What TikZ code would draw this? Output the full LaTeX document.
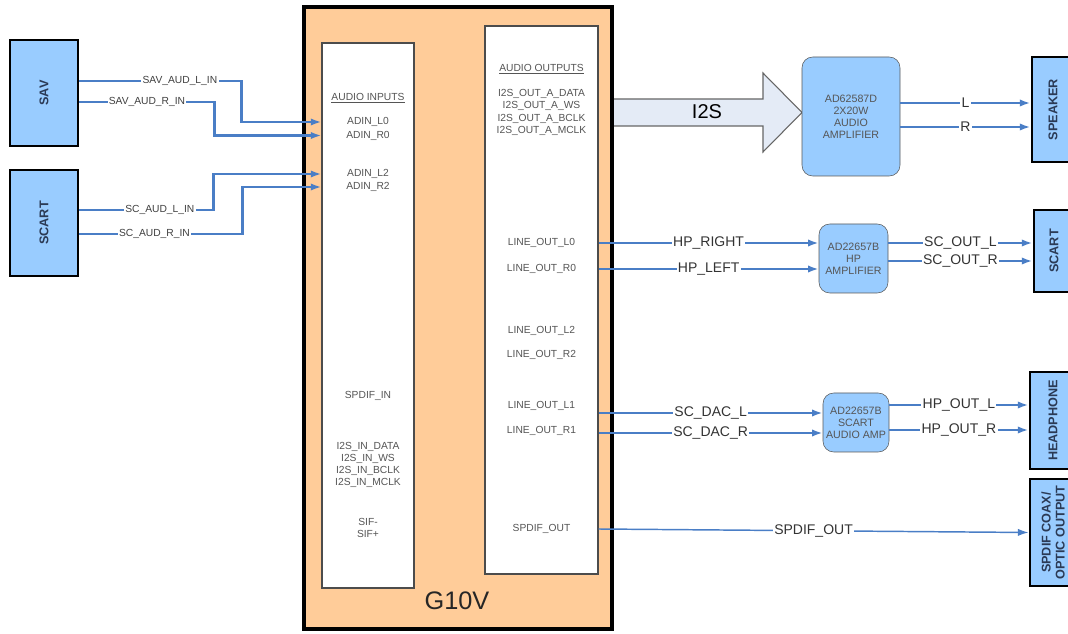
\documentclass[tikz,border=0pt]{standalone}
\usepackage{fontspec}
\setmainfont{Liberation Sans}
\usetikzlibrary{positioning, arrows, arrows.meta}
\definecolor{jackblue}{HTML}{99CCFF}
\definecolor{socpeach}{HTML}{FFCC99}
\definecolor{wireblue}{HTML}{4A7EC6}
\definecolor{i2sfill}{HTML}{E4EBF6}
\definecolor{padgrey}{HTML}{555555}
\definecolor{jacktext}{HTML}{2B3A55}
\newcommand{\unitpx}{0.75pt}

\begin{document}
\begin{tikzpicture}[x=0.75pt, y=-0.75pt, > = {Latex[length=8pt, width=5.5pt]},
    jack/.style={draw=black, line width=2.2pt, fill=jackblue, inner sep=0},
    jacktxt/.style={rotate=90, align=center, text=jacktext,
        font=\bfseries\fontsize{9.5}{10.5}\selectfont},
    amp/.style={draw=black!65, fill=jackblue, rounded corners=8pt, inner sep=0,
        align=center, text=padgrey, font=\fontsize{8}{9}\selectfont},
    padtxt/.style={inner sep=0, align=center, text=padgrey,
        font=\fontsize{7.7}{9.2}\selectfont},
    wire/.style={draw=wireblue, line width=1.7pt, ->},
    lbl/.style={fill=white, inner sep=1pt, text=black!75,
        font=\fontsize{7.7}{9}\selectfont},
    biglbl/.style={fill=white, inner sep=1pt, text=black!80,
        font=\fontsize{10.5}{12}\selectfont}
]
    \useasboundingbox (0,0) rectangle (1068,634);

    % i2s bus
    \draw [draw=black!60, fill=i2sfill, line width=0.8pt]
        (612,99) -- (763,99) -- (763,73) -- (802,112.5)
        -- (763,152) -- (763,126) -- (612,126) -- cycle;
    \node [font=\fontsize{15}{16}\selectfont] (i2slbl) at (707,112) {I2S};

    % soc
    \node [draw, line width=3pt, fill=socpeach,
        minimum width=308*\unitpx, minimum height=622*\unitpx
    ] (g10v) at (458,318) {};
    \node [font=\fontsize{19}{22}\selectfont, text=black!85] (g10vlbl) at (457,601) {G10V};

    \node [draw=black!70, fill=white, line width=0.8pt,
        minimum width=92*\unitpx, minimum height=545*\unitpx
    ] (inp) at (368,315.5) {};
    \node [draw=black!70, fill=white, line width=0.8pt,
        minimum width=113*\unitpx, minimum height=548*\unitpx
    ] (outp) at (541.5,300) {};

    % audio inputs
    \node [padtxt] (inhead) at (368,98) {\underline{AUDIO INPUTS}};
    \node [padtxt] (adinL0) at (368,122) {ADIN\_L0};
    \node [padtxt] (adinR0) at (368,135.5) {ADIN\_R0};
    \node [padtxt] (adinL2) at (368,174) {ADIN\_L2};
    \node [padtxt] (adinR2) at (368,187) {ADIN\_R2};
    \node [padtxt] (spdifin) at (368,396) {SPDIF\_IN};
    \node [padtxt] (i2sin) at (368,465)
        {I2S\_IN\_DATA\\I2S\_IN\_WS\\I2S\_IN\_BCLK\\I2S\_IN\_MCLK};
    \node [padtxt] (sif) at (368,528) {SIF-\\SIF+};

    % audio outputs
    \node [padtxt] (outhead) at (541.5,69) {\underline{AUDIO OUTPUTS}};
    \node [padtxt] (i2sout) at (541.5,112.5)
        {I2S\_OUT\_A\_DATA\\I2S\_OUT\_A\_WS\\I2S\_OUT\_A\_BCLK\\I2S\_OUT\_A\_MCLK};
    \node [padtxt] (lo0L) at (541.5,243) {LINE\_OUT\_L0};
    \node [padtxt] (lo0R) at (541.5,269) {LINE\_OUT\_R0};
    \node [padtxt] (lo2L) at (541.5,331) {LINE\_OUT\_L2};
    \node [padtxt] (lo2R) at (541.5,355) {LINE\_OUT\_R2};
    \node [padtxt] (lo1L) at (541.5,406) {LINE\_OUT\_L1};
    \node [padtxt] (lo1R) at (541.5,431) {LINE\_OUT\_R1};
    \node [padtxt] (spdo) at (541.5,529) {SPDIF\_OUT};

    % jacks
    \node [jack, minimum width=68*\unitpx, minimum height=106*\unitpx] (sav) at (44,93) {};
    \node [jacktxt] (savtxt) at (sav) {SAV};
    \node [jack, minimum width=68*\unitpx, minimum height=106*\unitpx] (scin) at (44,223) {};
    \node [jacktxt] (scintxt) at (scin) {SCART};

    \node [jack, minimum width=44*\unitpx, minimum height=105*\unitpx] (speaker) at (1054,109.5) {};
    \node [jacktxt] (speakertxt) at (1053,109.5) {SPEAKER};
    \node [jack, minimum width=42*\unitpx, minimum height=82*\unitpx] (scout) at (1055,251) {};
    \node [jacktxt] (scouttxt) at (1054,251) {SCART};
    \node [jack, minimum width=46*\unitpx, minimum height=97*\unitpx] (headphone) at (1053,420.5) {};
    \node [jacktxt] (headphonetxt) at (1053,420.5) {HEADPHONE};
    \node [jack, minimum width=46*\unitpx, minimum height=107*\unitpx] (spdif) at (1053,532.5) {};
    \node [jacktxt] (spdiftxt) at (1053,532.5) {SPDIF COAX/\\OPTIC OUTPUT};

    % amplifiers
    \node [amp, minimum width=98*\unitpx, minimum height=119*\unitpx] (amp1) at (851,116.5)
        {AD62587D\\2X20W\\AUDIO\\AMPLIFIER};
    \node [amp, minimum width=69*\unitpx, minimum height=69*\unitpx] (hpamp) at (853.5,258.5)
        {AD22657B\\HP\\AMPLIFIER};
    \node [amp, minimum width=66*\unitpx, minimum height=59*\unitpx] (scamp) at (856,422.5)
        {AD22657B\\SCART\\AUDIO AMP};

    % wire ends
    \coordinate (savL) at ([yshift=12*\unitpx]sav.east);
    \coordinate (savR) at ([yshift=-8.7*\unitpx]sav.east);
    \coordinate (scinL) at ([yshift=13*\unitpx]scin.east);
    \coordinate (scinR) at ([yshift=-11*\unitpx]scin.east);
    \coordinate (amp1L) at ([yshift=13.5*\unitpx]amp1.east);
    \coordinate (amp1R) at ([yshift=-10.5*\unitpx]amp1.east);
    \coordinate (hpampL) at ([yshift=15.5*\unitpx]hpamp.east);
    \coordinate (hpampR) at ([yshift=-2.5*\unitpx]hpamp.east);
    \coordinate (dacL) at ([yshift=9.5*\unitpx]scamp.west);
    \coordinate (dacR) at ([yshift=-10.5*\unitpx]scamp.west);
    \coordinate (hpoutL) at ([yshift=17.5*\unitpx]scamp.east);
    \coordinate (hpoutR) at ([yshift=-7.5*\unitpx]scamp.east);

    % inputs
    \draw [wire] (savL) -- node [lbl, pos=.62] {SAV\_AUD\_L\_IN} ++(162,0) |- (inp.west |- adinL0);
    \draw [wire] (savR) -- node [lbl] {SAV\_AUD\_R\_IN} ++(135,0) |- (inp.west |- adinR0);
    \draw [wire] (scinL) -- node [lbl, pos=.6] {SC\_AUD\_L\_IN} ++(134,0) |- (inp.west |- adinL2);
    \draw [wire] (scinR) -- node [lbl, pos=.46] {SC\_AUD\_R\_IN} ++(163,0) |- (inp.west |- adinR2);

    % outputs
    \draw [wire] (amp1L) -- node [biglbl] {L} (speaker.west |- amp1L);
    \draw [wire] (amp1R) -- node [biglbl] {R} (speaker.west |- amp1R);
    \draw [wire] (outp.east |- lo0L) -- node [biglbl] {HP\_RIGHT} (hpamp.west |- lo0L);
    \draw [wire] (outp.east |- lo0R) -- node [biglbl] {HP\_LEFT} (hpamp.west |- lo0R);
    \draw [wire] (hpampL) -- node [biglbl] {SC\_OUT\_L} (scout.west |- hpampL);
    \draw [wire] (hpampR) -- node [biglbl] {SC\_OUT\_R} (scout.west |- hpampR);
    \draw [wire] (outp.east |- dacL) -- node [biglbl] {SC\_DAC\_L} (dacL);
    \draw [wire] (outp.east |- dacR) -- node [biglbl] {SC\_DAC\_R} (dacR);
    \draw [wire] (hpoutL) -- node [biglbl] {HP\_OUT\_L} (headphone.west |- hpoutL);
    \draw [wire] (hpoutR) -- node [biglbl] {HP\_OUT\_R} (headphone.west |- hpoutR);
    \draw [wire, line width=1.1pt] (outp.east |- spdo) -- node [biglbl] {SPDIF\_OUT} (spdif.west);
\end{tikzpicture}
\end{document}
